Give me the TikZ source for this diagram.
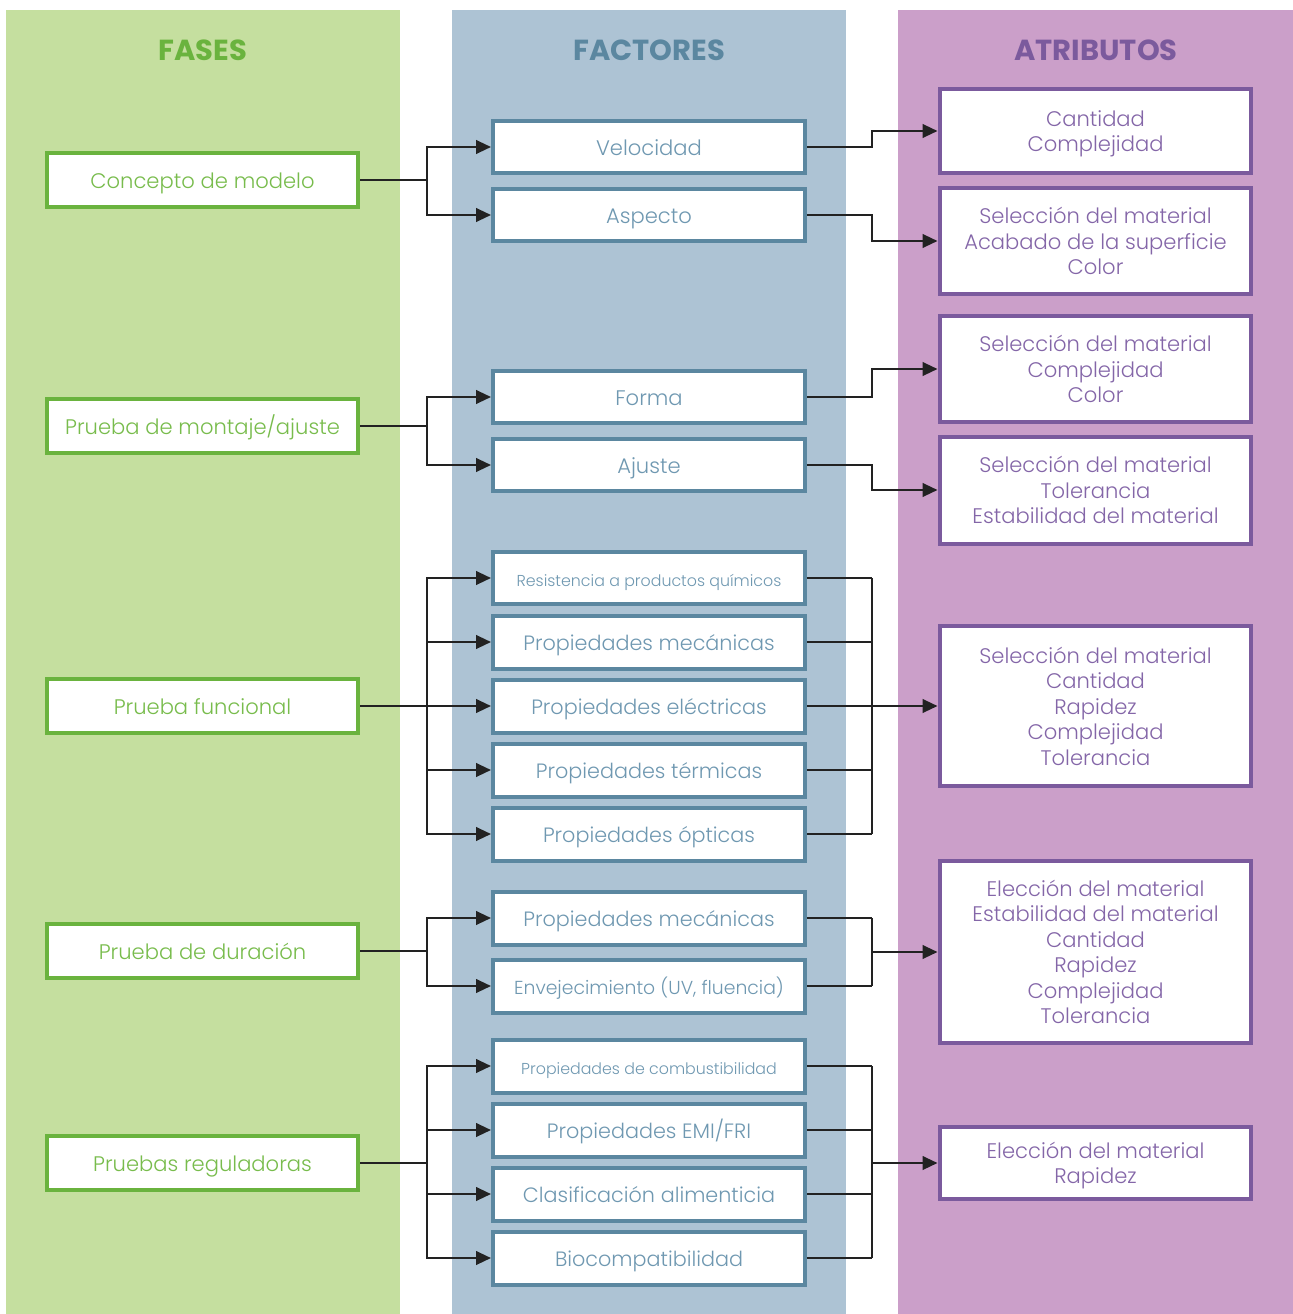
\documentclass[tikz,border=0pt]{standalone}
\usepackage{fontspec}
\setmainfont{Poppins}[UprightFont={* Light},BoldFont={* Bold}]
\usetikzlibrary{arrows.meta}

\definecolor{verdefondo}{HTML}{C5DF9F}
\definecolor{verdeborde}{HTML}{6AB33E}
\definecolor{verdetexto}{HTML}{78BC4C}
\definecolor{azulfondo}{HTML}{ADC3D4}
\definecolor{azulborde}{HTML}{5B87A0}
\definecolor{azultexto}{HTML}{6F98B1}
\definecolor{moradofondo}{HTML}{CB9FC9}
\definecolor{moradoborde}{HTML}{7B5A9D}
\definecolor{moradotexto}{HTML}{8466A8}
\definecolor{flechanegra}{HTML}{222222}

\begin{document}
\begin{tikzpicture}[x=0.02cm,y=-0.02cm,
    caja/.style={fill=white, line width=0.08cm, minimum width=6.24cm, align=center},
    unalinea/.style={text height=0.95em, text depth=0em},
    fase/.style={caja, unalinea, draw=verdeborde, text=verdetexto, minimum height=1.08cm, font=\fontsize{12}{14}\selectfont},
    factor/.style={caja, unalinea, draw=azulborde, text=azultexto, minimum height=1.06cm},
    atributo/.style={caja, text depth=0pt, draw=moradoborde, text=moradotexto, font=\fontsize{12}{14.5}\selectfont},
    titulo/.style={font=\bfseries\fontsize{16.5}{18}\selectfont},
    linea/.style={draw=flechanegra, line width=0.05cm},
    flecha/.style={linea, -{Triangle[length=0.3cm,width=0.27cm]}}]
    \useasboundingbox (0,0) rectangle (1293,1314);
    % columnas
    \fill[verdefondo] (6,10) rectangle (400,1314);
    \fill[azulfondo] (452,10) rectangle (846,1314);
    \fill[moradofondo] (898,10) rectangle (1293,1314);
    \node[titulo, text=verdeborde] (tfases) at (203,50) {FASES};
    \node[titulo, text=azulborde] (tfactores) at (649,50) {FACTORES};
    \node[titulo, text=moradoborde] (tatributos) at (1096,50) {ATRIBUTOS};

    % fases
    \foreach \y/\txt [count=\j] in {180/Concepto de modelo, 426/{Prueba de montaje/ajuste}, 706/Prueba funcional, 951/Prueba de duración, 1163/Pruebas reguladoras} {
        \node[fase] (fase\j) at (202.5,\y) {\txt};
    }

    % factores
    \foreach \y/\txt/\tam [count=\j] in {147/Velocidad/12, 215/Aspecto/12, 397/Forma/12, 465/Ajuste/12,
        578/Resistencia a productos químicos/9, 642/Propiedades mecánicas/11.8, 706/Propiedades eléctricas/11.8,
        770/Propiedades térmicas/11.8, 834/Propiedades ópticas/11.8, 918/Propiedades mecánicas/11.8,
        986/{Envejecimiento (UV, fluencia)}/10.7, 1066/Propiedades de combustibilidad/9, 1130/{Propiedades EMI/FRI}/11.8,
        1194/Clasificación alimenticia/11.8, 1258/Biocompatibilidad/11.8} {
        \node[factor, font=\fontsize{\tam}{14}\selectfont] (fac\j) at (649,\y) {\txt};
    }

    % atributos
    \foreach \y/\h/\txt [count=\j] in {131/84/{Cantidad\\Complejidad},
        241/106/{Selección del material\\Acabado de la superficie\\Color},
        369/106/{Selección del material\\Complejidad\\Color},
        490/107/{Selección del material\\Tolerancia\\Estabilidad del material},
        706/160/{Selección del material\\Cantidad\\Rapidez\\Complejidad\\Tolerancia},
        952/182/{Elección del material\\Estabilidad del material\\Cantidad\\Rapidez\\Complejidad\\Tolerancia},
        1163/72/{Elección del material\\Rapidez}} {
        \node[atributo, minimum height=\h*0.02cm] (atr\j) at (1095.5,\y) {\txt};
    }

    \coordinate (xl) at (427,0);
    \coordinate (xr) at (872,0);

    % fases -> factores
    \draw[flecha] (fase1.east) -- (fase1.east -| xl) |- (fac1.west);
    \draw[flecha] (fase1.east) -- (fase1.east -| xl) |- (fac2.west);
    \draw[flecha] (fase2.east) -- (fase2.east -| xl) |- (fac3.west);
    \draw[flecha] (fase2.east) -- (fase2.east -| xl) |- (fac4.west);
    \foreach \k in {5,...,9} {
        \draw[flecha] (fase3.east) -- (fase3.east -| xl) |- (fac\k.west);
    }
    \draw[flecha] (fase4.east) -- (fase4.east -| xl) |- (fac10.west);
    \draw[flecha] (fase4.east) -- (fase4.east -| xl) |- (fac11.west);
    \foreach \k in {12,...,15} {
        \draw[flecha] (fase5.east) -- (fase5.east -| xl) |- (fac\k.west);
    }

    % factores -> atributos
    \draw[flecha] (fac1.east) -- (fac1.east -| xr) |- (atr1.west);
    \draw[flecha] (fac2.east) -- (fac2.east -| xr) |- (atr2.west);
    \draw[flecha] (fac3.east) -- (fac3.east -| xr) |- (atr3.west);
    \draw[flecha] (fac4.east) -- (fac4.east -| xr) |- (atr4.west);
    \foreach \k in {5,...,15} {
        \draw[linea] (fac\k.east) -- (fac\k.east -| xr);
    }
    \draw[linea] (fac5.east -| xr) -- (fac9.east -| xr);
    \draw[linea] (fac10.east -| xr) -- (fac11.east -| xr);
    \draw[linea] (fac12.east -| xr) -- (fac15.east -| xr);
    \draw[flecha] (atr5.west -| xr) -- (atr5.west);
    \draw[flecha] (atr6.west -| xr) -- (atr6.west);
    \draw[flecha] (atr7.west -| xr) -- (atr7.west);
\end{tikzpicture}
\end{document}
